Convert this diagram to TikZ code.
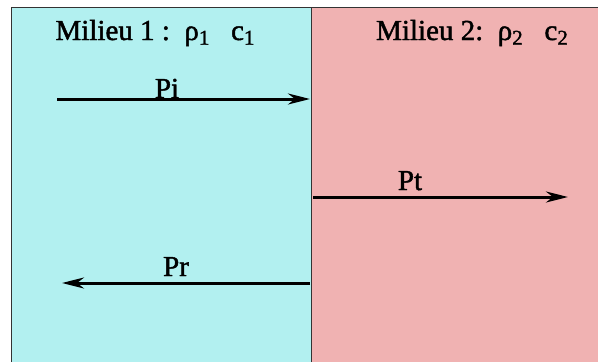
\documentclass[tikz,border=0pt]{standalone}
\usepackage{fontspec}
\setmainfont{Liberation Serif}
\newfontfamily\labfont{Liberation Serif}[FakeBold=1.5]
\usetikzlibrary{arrows.meta}
\definecolor{milieuA}{RGB}{178,240,240}
\definecolor{milieuB}{RGB}{240,178,178}
\newcommand{\idx}[1]{\raisebox{-0.35ex}{\fontsize{21}{21}\selectfont #1}}

\begin{document}
\begin{tikzpicture}[x=1pt,y=-1pt,
  wave/.style={line width=3pt,-{Stealth[length=22pt,width=11pt,inset=7pt]}},
  lab/.style={font=\labfont\fontsize{29}{33}\selectfont,anchor=base,inner sep=0pt}]
\useasboundingbox (0,0) rectangle (598,362);

% Media
\fill[milieuA] (11,7) rectangle (311,370);
\fill[milieuB] (311,7) rectangle (610,370);
\draw[black!80] (11,370) -- (11,7) -- (610,7);
\draw[black!80] (311,7) -- (311,370);

% Titles
\node[lab] (mil1) at (155,40) {Milieu 1 :\ \ ρ\idx{1}\ \ \ c\idx{1}};
\node[lab] (mil2) at (472,40) {Milieu 2:\ \ ρ\idx{2}\ \ \ c\idx{2}};

% Incident wave
\coordinate (pi0) at (57,99);
\coordinate (pi1) at (310,99);
\node[lab] (pi) at (167,98) {Pi};
\draw[wave] (pi0) -- (pi1);

% Transmitted wave
\coordinate (pt0) at (313,197);
\coordinate (pt1) at (568,197);
\node[lab] (pt) at (410,190) {Pt};
\draw[wave] (pt0) -- (pt1);

% Reflected wave
\coordinate (pr0) at (310,283);
\coordinate (pr1) at (62,283);
\node[lab] (pr) at (176,276) {Pr};
\draw[wave] (pr0) -- (pr1);
\end{tikzpicture}
\end{document}
